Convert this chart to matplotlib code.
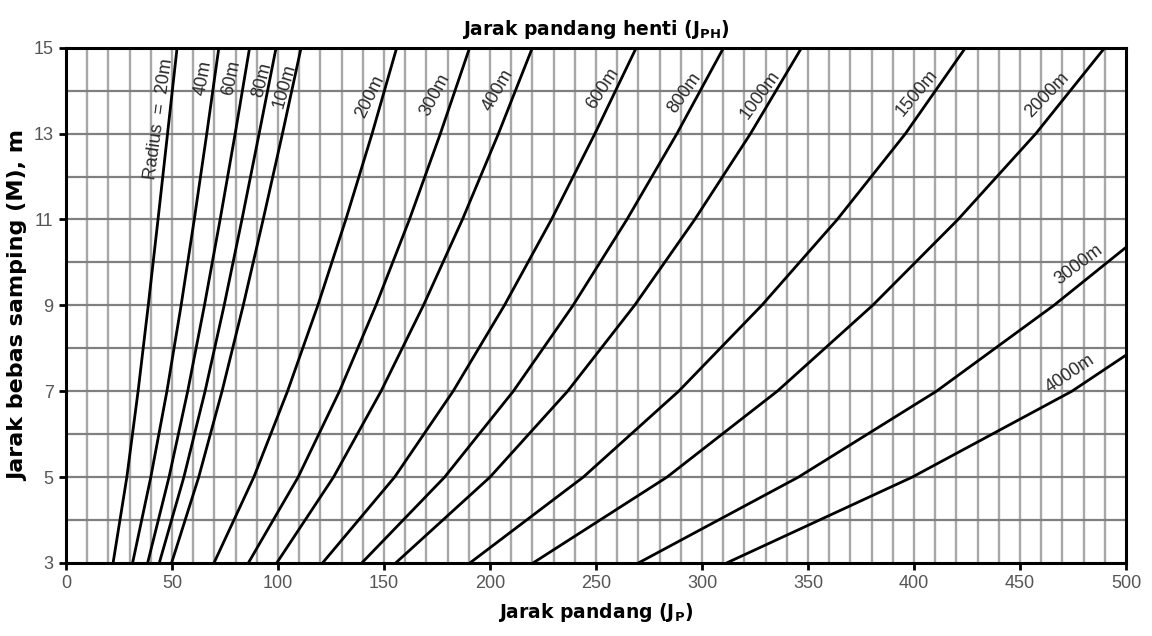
import numpy as np
import matplotlib
matplotlib.use("Agg")
import matplotlib.pyplot as plt

plt.rcParams['font.family'] = ['Liberation Sans', 'DejaVu Sans']
plt.rcParams['mathtext.fontset'] = 'dejavusans'

# jarak bebas samping M (m) levels where the curves were read
m_levels = [3, 5, 7, 9, 11, 13, 15]

# jarak pandang (m) read at each M level, per radius
jp_20 = [22.2, 28.7, 34.0, 38.8, 43.4, 47.9, 52.4]
jp_40 = [31.4, 40.0, 47.6, 54.3, 60.5, 66.4, 72.1]
jp_60 = [38.5, 48.6, 57.4, 65.3, 72.7, 79.8, 86.6]
jp_80 = [44.0, 55.6, 65.6, 74.6, 83.0, 91.1, 99.1]
jp_100 = [49.8, 62.6, 73.6, 83.6, 93.0, 102.1, 110.9]
jp_200 = [69.8, 88.6, 104.5, 118.8, 132.0, 144.4, 156.0]
jp_300 = [86.0, 109.5, 129.0, 146.2, 162.0, 176.6, 190.4]
jp_400 = [99.4, 126.2, 148.6, 168.6, 187.0, 204.0, 220.0]
jp_600 = [121.0, 155.0, 182.6, 206.8, 229.0, 249.5, 269.0]
jp_800 = [139.5, 178.6, 211.0, 239.2, 264.6, 288.2, 310.2]
jp_1000 = [155.5, 200.0, 236.6, 268.2, 296.6, 322.9, 347.0]
jp_1500 = [190.5, 244.0, 289.0, 328.2, 363.8, 396.0, 424.3]
jp_2000 = [220.3, 283.5, 335.5, 380.5, 420.8, 457.5, 490.0]

# the two largest radii leave the chart through the right edge
m_3000 = [3, 5, 7, 9, 10.35]
jp_3000 = [270.0, 345.5, 410.6, 466.0, 500.0]
m_4000 = [3, 5, 7, 7.84]
jp_4000 = [311.6, 399.2, 474.5, 500.0]

curves = [
    (jp_20, m_levels), (jp_40, m_levels), (jp_60, m_levels), (jp_80, m_levels),
    (jp_100, m_levels), (jp_200, m_levels), (jp_300, m_levels), (jp_400, m_levels),
    (jp_600, m_levels), (jp_800, m_levels), (jp_1000, m_levels), (jp_1500, m_levels),
    (jp_2000, m_levels), (jp_3000, m_3000), (jp_4000, m_4000),
]

radius_labels = ["Radius  =  20m", "40m", "60m", "80m", "100m", "200m", "300m", "400m",
                 "600m", "800m", "1000m", "1500m", "2000m", "3000m", "4000m"]
# label placement (x, y, rotation)
label_pos = [(43.8, 13.35, 82), (64.6, 14.3, 80), (78.2, 14.3, 78), (92.3, 14.25, 76),
             (103.3, 14.1, 74), (143.4, 13.85, 64), (174, 13.9, 62), (203.9, 14.0, 60),
             (253.4, 14.05, 57), (292, 13.95, 55), (327.4, 13.9, 54), (401.3, 13.95, 50),
             (462.6, 13.9, 46), (477.5, 9.95, 37), (473.6, 7.4, 34)]

fig = plt.figure(figsize=(11.52, 6.36), dpi=100)
ax = fig.add_axes([0.0573, 0.1148, 0.9201, 0.8102])

ax.set_xlim(0, 500)
ax.set_ylim(3, 15)

for x in range(10, 500, 10):
    ax.axvline(x, color='#a8a8a8', lw=1.7, zorder=1)
for y in range(4, 15):
    ax.axhline(y, color='#808080', lw=1.6, zorder=1)

for xs, ys in curves:
    ax.plot(xs, ys, color='black', lw=2.0, zorder=3, solid_joinstyle='round')

for txt, (lx, ly, rot) in zip(radius_labels, label_pos):
    ax.text(lx, ly, txt, rotation=rot, rotation_mode='anchor', ha='center', va='center',
            fontsize=13, color='#2a2a2a', zorder=4)

ax.set_xticks(np.arange(0, 501, 50))
ax.set_yticks(np.arange(3, 16, 2))
ax.tick_params(direction='out', length=5, width=2, colors='black', labelcolor='#555555',
               labelsize=13, pad=4)
for s in ax.spines.values():
    s.set_linewidth(2.2)
    s.set_zorder(5)

lab = dict(family='DejaVu Sans', fontweight='bold')
ax.set_xlabel(r'Jarak pandang (J$_{\mathbf{P}}$)', fontsize=13.5, labelpad=6, **lab)
ax.set_ylabel('Jarak bebas samping (M), m', fontsize=16, **lab)
ax.yaxis.set_label_coords(-0.036, 0.5)
ax.set_title(r'Jarak pandang henti (J$_{\mathbf{PH}}$)', fontsize=13.5, pad=9, **lab)

fig.savefig('out.png', dpi=100)
